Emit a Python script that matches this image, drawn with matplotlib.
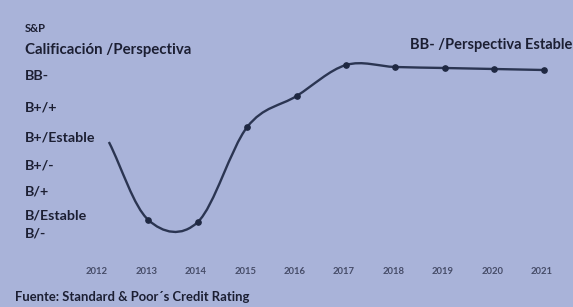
import matplotlib
matplotlib.use("Agg")
import matplotlib.pyplot as plt
from matplotlib.path import Path
from matplotlib.patches import PathPatch
from matplotlib.transforms import ScaledTranslation
import numpy as np

# ---- data ----
years = [2012.2, 2013, 2014, 2015, 2016, 2017, 2018, 2019, 2020, 2021]
rating = [3.72, 0.6, 0.52, 4.32, 5.56, 6.8, 6.72, 6.68, 6.64, 6.6]
year_ticks = [2012, 2013, 2014, 2015, 2016, 2017, 2018, 2019, 2020, 2021]
year_labels = [str(y) for y in year_ticks]
level_pos = [6.4, 5.12, 3.92, 2.8, 1.8, 0.8, 0.12]
level_labels = ["BB-", "B+/+", "B+/Estable", "B+/-", "B/+", "B/Estable", "B/-"]

BG = "#a9b3d9"
TXT = "#1c1f33"
LINE = "#2b3552"

W, H = 573, 307
fig = plt.figure(figsize=(W / 100, H / 100), dpi=100, facecolor=BG)
plt.rcParams['font.family'] = ['Lato', 'DejaVu Sans']

# axes pixel box
L, R, T, B = 60, 565, 55, 245
ax = fig.add_axes([L / W, 1 - B / H, (R - L) / W, (B - T) / H])
ax.set_facecolor(BG)
for s in ax.spines.values():
    s.set_visible(False)

ax.set_xlim(2012 - 39 / 49.4, 2012 + 466 / 49.4)
ax.set_ylim(-0.4, 7.2)

# smooth Catmull-Rom curve through data via Bezier path
x = np.array(years, float)
y = np.array(rating, float)
n = len(x)
mx = np.zeros(n); my = np.zeros(n)
for i in range(n):
    if i == 0:
        mx[i] = x[1] - x[0]; my[i] = y[1] - y[0]
    elif i == n - 1:
        mx[i] = x[-1] - x[-2]; my[i] = y[-1] - y[-2]
    else:
        mx[i] = (x[i + 1] - x[i - 1]) / 2; my[i] = (y[i + 1] - y[i - 1]) / 2
verts = [(x[0], y[0])]
codes = [Path.MOVETO]
for i in range(n - 1):
    verts += [(x[i] + mx[i] / 3, y[i] + my[i] / 3),
              (x[i + 1] - mx[i + 1] / 3, y[i + 1] - my[i + 1] / 3),
              (x[i + 1], y[i + 1])]
    codes += [Path.CURVE4] * 3
ax.add_patch(PathPatch(Path(verts, codes), fill=False, ec=LINE, lw=1.7))
ax.plot(years[1:], rating[1:], ls="none", marker="o", ms=3.8, color="#1f2842")

ax.set_xticks(year_ticks)
ax.set_xticklabels(year_labels, fontsize=6.8, color="#464c68", fontweight="bold")
ax.tick_params(axis="x", length=0, pad=16)
shift = ScaledTranslation(-2 / 100, 0, fig.dpi_scale_trans)
for lab in ax.get_xticklabels():
    lab.set_transform(lab.get_transform() + shift)
ax.set_yticks(level_pos)
ax.set_yticklabels(level_labels, fontsize=10.3, color=TXT, fontweight="bold", ha="left")
ax.tick_params(axis="y", length=0, pad=25.2)

fig.text(25 / W, 1 - 29 / H, "S&P", fontsize=8, color=TXT, fontweight="bold", va="center")
fig.text(25 / W, 1 - 50 / H, "Calificación /Perspectiva", fontsize=10.8, color=TXT,
         fontweight="bold", va="center")
fig.text(410 / W, 1 - 45 / H, "BB- /Perspectiva Estable", fontsize=10.5, color=TXT,
         fontweight="bold", va="center")
fig.text(15 / W, 1 - 297 / H, "Fuente: Standard & Poor´s Credit Rating", fontsize=9.4,
         color=TXT, fontweight="bold", va="center")

fig.savefig("out.png", dpi=100, facecolor=BG)
